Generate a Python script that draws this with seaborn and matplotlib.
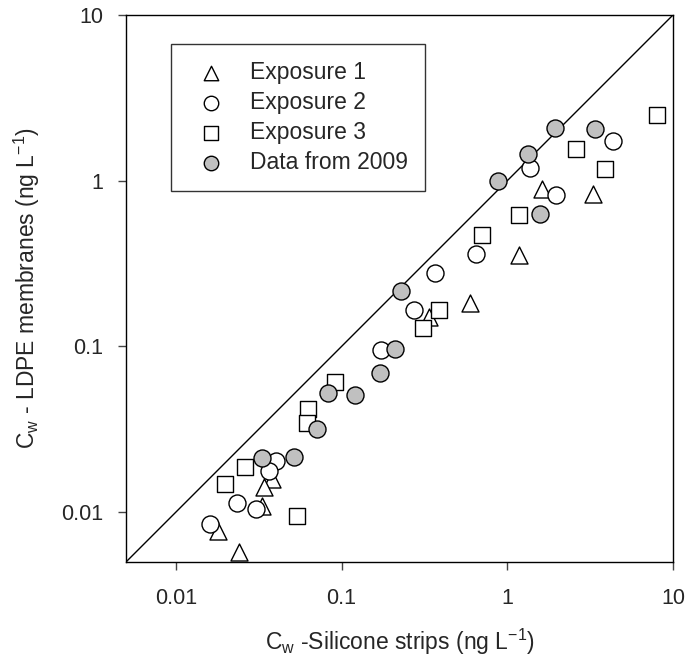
import numpy as np
import pandas as pd
import matplotlib
matplotlib.use('Agg')
import matplotlib.pyplot as plt
import seaborn as sns

# values (ng/L)
exp1_x = [1.62, 3.30, 1.18, 0.598, 0.339, 0.0379, 0.0339, 0.033, 0.0179, 0.024]
exp1_y = [0.886, 0.834, 0.354, 0.183, 0.151, 0.0158, 0.0142, 0.0109, 0.0077, 0.00573]

exp2_x = [4.35, 1.38, 1.97, 0.651, 0.368, 0.272, 0.174, 0.040, 0.0363, 0.0233, 0.0303, 0.016]
exp2_y = [1.73, 1.20, 0.815, 0.362, 0.278, 0.165, 0.0957, 0.0204, 0.0177, 0.0113, 0.0104, 0.00846]

exp3_x = [8.01, 2.60, 3.89, 1.18, 0.707, 0.387, 0.308, 0.0907, 0.0629, 0.0620, 0.0260, 0.0199, 0.0541]
exp3_y = [2.50, 1.55, 1.17, 0.617, 0.472, 0.166, 0.129, 0.0613, 0.0419, 0.0345, 0.0188, 0.0148, 0.0095]

d2009_x = [1.95, 3.39, 1.34, 0.877, 1.57, 0.227, 0.211, 0.171, 0.0823, 0.120, 0.0707, 0.033, 0.0519]
d2009_y = [2.09, 2.04, 1.44, 1.00, 0.626, 0.216, 0.0966, 0.0692, 0.0524, 0.0511, 0.0317, 0.0212, 0.0216]

groups = ['Exposure 1', 'Exposure 2', 'Exposure 3', 'Data from 2009']
ticks = [0.01, 0.1, 1, 10]
tick_labels = ['0.01', '0.1', '1', '10']
lims = [0.005, 10]

frames = []
for name, xs, ys in zip(groups, [exp1_x, exp2_x, exp3_x, d2009_x], [exp1_y, exp2_y, exp3_y, d2009_y]):
    frames.append(pd.DataFrame({'x': xs, 'y': ys, 'group': name}))
df = pd.concat(frames, ignore_index=True)

sns.set_style('ticks')
plt.rcParams['font.family'] = ['Liberation Sans', 'DejaVu Sans']
plt.rcParams['mathtext.default'] = 'regular'

fig = plt.figure(figsize=(6.87, 6.6), dpi=100)
ax = fig.add_axes([0.1834, 0.1485, 0.7962, 0.8288])

# 1:1 line
ax.plot(lims, lims, color='black', lw=1, zorder=1)

markers = {'Exposure 1': '^', 'Exposure 2': 'o', 'Exposure 3': 's', 'Data from 2009': 'o'}
palette = {'Exposure 1': 'white', 'Exposure 2': 'white', 'Exposure 3': 'white', 'Data from 2009': '#c0c0c0'}
sizes = {'Exposure 1': 150, 'Exposure 2': 150, 'Exposure 3': 130, 'Data from 2009': 150}

for g in groups:
    sub = df[df['group'] == g]
    sns.scatterplot(data=sub, x='x', y='y', marker=markers[g], color=palette[g],
                    edgecolor='black', linewidth=1, s=sizes[g], label=g, ax=ax, zorder=3)

ax.set_xscale('log')
ax.set_yscale('log')
ax.set_xlim(lims)
ax.set_ylim(lims)
ax.set_xticks(ticks)
ax.set_xticklabels(tick_labels)
ax.set_yticks(ticks)
ax.set_yticklabels(tick_labels)
ax.minorticks_off()
ax.tick_params(axis='both', which='major', direction='out', length=5.5, width=1,
               color='#444444', labelsize=15.5)
ax.tick_params(axis='x', pad=13)
ax.tick_params(axis='y', pad=11)

for sp in ax.spines.values():
    sp.set_visible(True)
    sp.set_color('black')
    sp.set_linewidth(1)

ax.set_xlabel('C$_w$ -Silicone strips (ng L$^{-1}$)', fontsize=16.5, labelpad=13)
ax.set_ylabel('C$_w$ - LDPE membranes (ng L$^{-1}$)', fontsize=16.5, labelpad=14)

leg = ax.legend(loc='upper left', bbox_to_anchor=(0.082, 0.947), borderaxespad=0,
                frameon=True, fancybox=False, edgecolor='black', fontsize=16.5,
                labelspacing=0.3, handletextpad=0.7, borderpad=0.75, markerscale=0.85)
leg.get_frame().set_linewidth(1)

fig.savefig('out.png', dpi=100)
